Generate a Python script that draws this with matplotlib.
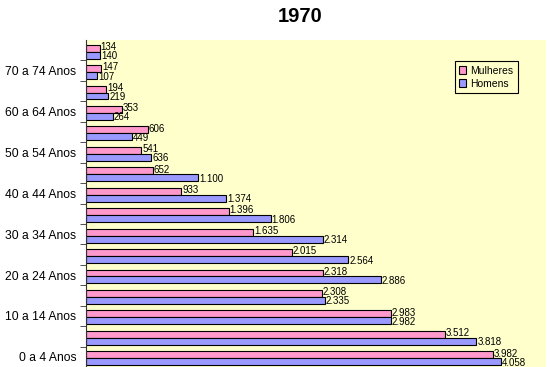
import matplotlib
matplotlib.use("Agg")
import matplotlib.pyplot as plt
import numpy as np

plt.rcParams['font.family'] = ['Liberation Sans', 'DejaVu Sans']

categories = ["0 a 4 Anos", "5 a 9 Anos", "10 a 14 Anos", "15 a 19 Anos",
              "20 a 24 Anos", "25 a 29 Anos", "30 a 34 Anos", "35 a 39 Anos",
              "40 a 44 Anos", "45 a 49 Anos", "50 a 54 Anos", "55 a 59 Anos",
              "60 a 64 Anos", "65 a 69 Anos", "70 a 74 Anos", "75 Anos e mais"]
mulheres = [3982, 3512, 2983, 2308, 2318, 2015, 1635, 1396, 933, 652, 541, 606, 353, 194, 147, 134]
homens = [4058, 3818, 2982, 2335, 2886, 2564, 2314, 1806, 1374, 1100, 636, 449, 264, 219, 107, 140]

def fmt(v):
    return f"{v:,}".replace(",", ".")

fig = plt.figure(figsize=(5.5, 3.67), dpi=100)
ax = fig.add_axes([86/550, 0.0, (546-86)/550, 1 - 40/367])
ax.set_facecolor('#FFFFCC')

y = np.arange(len(categories))
h = 0.34
ax.barh(y + h/2 - 0.07, mulheres, height=h, color='#FF99CC', edgecolor='black', linewidth=0.8, label='Mulheres')
ax.barh(y - h/2 - 0.07, homens, height=h, color='#9999FF', edgecolor='black', linewidth=0.8, label='Homens')

for i in range(len(categories)):
    ax.text(mulheres[i] + 10, y[i] + h/2 - 0.01, fmt(mulheres[i]), fontsize=7, va='center', ha='left')
    ax.text(homens[i] + 10, y[i] - h/2 - 0.12, fmt(homens[i]), fontsize=7, va='center', ha='left')

ax.set_xlim(0, 4500)
ax.set_ylim(-0.5, len(categories) - 0.5)
ax.set_yticks(y[::2])
ax.set_yticklabels(categories[::2], fontsize=8.7)
ax.tick_params(axis='y', which='major', length=0, pad=7)
ax.set_yticks(np.arange(len(categories)) - 0.5, minor=True)
ax.tick_params(axis='y', which='minor', length=4, color='#333333')
ax.set_xticks([])
for s in ['top', 'right', 'bottom']:
    ax.spines[s].set_visible(False)
ax.spines['left'].set_color('#333333')

leg = ax.legend(loc='upper right', bbox_to_anchor=(0.939, 0.936), borderaxespad=0, fontsize=7.5,
                frameon=True, fancybox=False, edgecolor='black', facecolor='#FFFFCC',
                handlelength=0.7, handleheight=0.7, handletextpad=0.35, borderpad=0.45,
                labelspacing=0.3)
leg.get_frame().set_linewidth(0.8)
leg.get_frame().set_alpha(1)

fig.text(300/550, 1 - 17/367, "1970", fontsize=14.5, fontweight='bold', ha='center', va='center')

fig.savefig("out.png", dpi=100)
